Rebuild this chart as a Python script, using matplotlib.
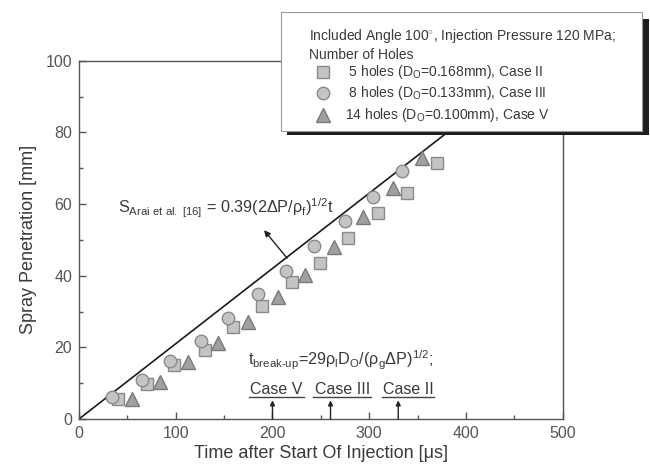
import matplotlib
matplotlib.use("Agg")
import matplotlib.pyplot as plt
from matplotlib.patches import Rectangle
from matplotlib.lines import Line2D
from matplotlib.ticker import MultipleLocator

plt.rcParams['font.family'] = ['Liberation Sans', 'DejaVu Sans']
plt.rcParams['mathtext.fontset'] = 'custom'
plt.rcParams['mathtext.rm'] = 'Liberation Sans'
plt.rcParams['mathtext.it'] = 'Liberation Sans'
plt.rcParams['mathtext.bf'] = 'Liberation Sans:bold'

# ---- data ----
t_5holes = [40.0, 70.0, 98.6, 130.3, 159.6, 189.5, 220.0, 249.2, 278.5, 308.9, 339.5, 369.9]
s_5holes = [5.6, 9.7, 15.1, 19.3, 25.6, 31.5, 38.3, 43.6, 50.4, 57.6, 63.2, 71.5]
t_8holes = [34.4, 65.5, 94.1, 125.9, 154.4, 185.4, 214.1, 243.3, 275.1, 304.4, 333.7]
s_8holes = [6.2, 10.9, 16.2, 21.9, 28.1, 34.9, 41.4, 48.3, 55.3, 62.0, 69.3]
t_14holes = [54.5, 83.8, 113.0, 144.0, 175.1, 205.2, 233.7, 263.7, 294.0, 324.3, 354.4]
s_14holes = [5.6, 10.2, 15.8, 21.3, 27.2, 34.0, 40.2, 48.1, 56.5, 64.4, 72.8]
arai_t = [0, 476]
arai_s = [0, 100]
breakup_t = [200, 260, 330]
breakup_labels = ["Case V", "Case III", "Case II"]
legend_labels = [" 5 holes (D$_\\mathrm{O}$=0.168mm), Case II",
                 " 8 holes (D$_\\mathrm{O}$=0.133mm), Case III",
                 "14 holes (D$_\\mathrm{O}$=0.100mm), Case V"]

W, H = 650, 468
fig = plt.figure(figsize=(6.5, 4.68), dpi=100)
ax = fig.add_axes([79 / W, 1 - 419 / H, (562.7 - 79) / W, (419 - 60.7) / H])

txt = '#3a3a3a'
mk_fill = '#c4c4c4'
mk_edge = '#8a8a8a'
tri_fill = '#a0a0a0'

ax.plot(arai_t, arai_s, color='#1a1a1a', lw=1.2, zorder=2)
ax.plot(t_5holes, s_5holes, ls='none', marker='s', ms=8, mfc=mk_fill, mec=mk_edge, mew=1.0, zorder=3)
ax.plot(t_8holes, s_8holes, ls='none', marker='o', ms=9, mfc=mk_fill, mec=mk_edge, mew=1.0, zorder=3)
ax.plot(t_14holes, s_14holes, ls='none', marker='^', ms=9.5, mfc=tri_fill, mec='#7a7a7a', mew=1.0, zorder=3)

ax.set_xlim(0, 500)
ax.set_ylim(0, 100)
ax.xaxis.set_major_locator(MultipleLocator(100))
ax.xaxis.set_minor_locator(MultipleLocator(50))
ax.yaxis.set_major_locator(MultipleLocator(20))
ax.yaxis.set_minor_locator(MultipleLocator(10))
ax.tick_params(which='both', direction='in', colors='#555555', labelcolor='#555555',
               labelsize=11.5, width=1.0)
ax.tick_params(which='major', length=5, pad=5)
ax.tick_params(which='minor', length=3)
for sp in ax.spines.values():
    sp.set_color('#555555')
    sp.set_linewidth(1.0)

ax.set_xlabel('Time after Start Of Injection [μs]', fontsize=13, color=txt, labelpad=3)
ax.set_ylabel('Spray Penetration [mm]', fontsize=13, color=txt, labelpad=6)

# Arai correlation annotation
ax.text(40.7, 57.4, r"S$_{\mathrm{Arai\ et\ al.\ [16]}}$ = 0.39(2$\Delta$P/$\rho_{\mathrm{f}}$)$^{1/2}$t",
        fontsize=11.7, color=txt, ha='left', va='baseline')
ax.annotate('', xy=(191.3, 52.7), xytext=(215.1, 44.9),
            arrowprops=dict(arrowstyle='-|>', color='#222222', lw=1.0, mutation_scale=9,
                            shrinkA=0, shrinkB=0))

# break-up time
ax.text(175, 15.1, r"t$_{\mathrm{break\text{-}up}}$=29$\rho_{\mathrm{l}}$D$_{\mathrm{O}}$/($\rho_{\mathrm{g}}\Delta$P)$^{1/2}$;",
        fontsize=11.7, color=txt, ha='left', va='baseline')
label_centers = [204, 272, 340]
label_half = [28.5, 30, 27]
for tb, lab, xc, hw in zip(breakup_t, breakup_labels, label_centers, label_half):
    ax.annotate('', xy=(tb, 5.2), xytext=(tb, 0),
                arrowprops=dict(arrowstyle='-|>', color='#222222', lw=1.0, mutation_scale=7,
                                shrinkA=0, shrinkB=0))
    ax.text(xc, 7.0, lab, fontsize=11.5, color=txt, ha='center', va='baseline')
    ax.plot([xc - hw, xc + hw], [6.1, 6.1], color='#444444', lw=1.0)

# Legend box (manual, with shadow)
def fx(px):
    return px / W

def fy(py):
    return 1 - py / H

fig.add_artist(Rectangle((fx(287), fy(135)), fx(649) - fx(287), fy(19) - fy(135),
                         transform=fig.transFigure, facecolor='#1e1e1e', edgecolor='none', zorder=4))
fig.add_artist(Rectangle((fx(281), fy(131)), fx(642) - fx(281), fy(12) - fy(131),
                         transform=fig.transFigure, facecolor='white', edgecolor='#9a9a9a',
                         lw=0.8, zorder=5))
fig.text(fx(309), fy(40), "Included Angle 100$^{\\circ}$, Injection Pressure 120 MPa;",
         fontsize=10, color=txt, ha='left', va='baseline', zorder=6)
fig.text(fx(309), fy(59), "Number of Holes", fontsize=10, color=txt, ha='left',
         va='baseline', zorder=6)
leg_y = [72, 93, 115]
leg_mk = [('s', 8, mk_fill, mk_edge), ('o', 9, mk_fill, mk_edge), ('^', 9.5, tri_fill, '#7a7a7a')]
for lab, yy, (m, ms, fc, ec) in zip(legend_labels, leg_y, leg_mk):
    fig.add_artist(Line2D([fx(323)], [fy(yy)], transform=fig.transFigure, ls='none', marker=m,
                          ms=ms, mfc=fc, mec=ec, mew=1.0, zorder=6))
    fig.text(fx(345), fy(yy), lab, fontsize=10, color=txt, ha='left', va='center', zorder=6)

fig.savefig('out.png', dpi=100)
